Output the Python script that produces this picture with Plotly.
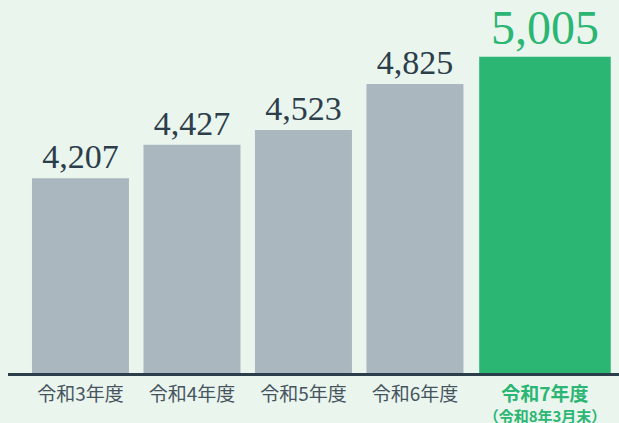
import plotly.graph_objects as go

categories = ["令和3年度", "令和4年度", "令和5年度", "令和6年度", "令和7年度"]
sublabel = "（令和8年3月末）"
values = [4207, 4427, 4523, 4825, 5005]
value_labels = ["4,207", "4,427", "4,523", "4,825", "5,005"]

GRAY = "#aab7bf"
GREEN = "#2bb673"
DARK = "#2c3e4a"
BG = "#eaf5ee"

xpos = [0, 1, 2, 3, 4.166]
widths = [0.87, 0.87, 0.87, 0.87, 1.18]
colors = [GRAY] * 4 + [GREEN]
text_colors = [DARK] * 4 + [GREEN]
text_sizes = [34] * 4 + [48]

ticktext = [f"<span style='color:#46545e;font-size:19px'>{c}</span>" for c in categories[:4]]
ticktext.append(
    f"<span style='color:{GREEN};font-size:19px'><b>{categories[4]}</b></span><br>"
    f"<span style='color:{GREEN};font-size:15px'><b>{sublabel}</b></span>"
)

fig = go.Figure(
    go.Bar(
        x=xpos,
        y=values,
        width=widths,
        marker=dict(color=colors, line=dict(width=0)),
        text=value_labels,
        textposition="outside",
        textfont=dict(family="Liberation Serif, serif", size=text_sizes, color=text_colors),
        cliponaxis=False,
        hoverinfo="skip",
    )
)

fig.update_layout(
    width=619,
    height=423,
    margin=dict(l=8, r=0, t=0, b=50, autoexpand=False),
    paper_bgcolor=BG,
    plot_bgcolor=BG,
    showlegend=False,
    font=dict(family="Noto Sans CJK JP", size=16, color="#46545e"),
)
fig.update_xaxes(
    range=[-0.650, 4.830],
    tickvals=xpos,
    ticktext=ticktext,
    showgrid=False,
    zeroline=False,
    showline=True,
    linecolor=DARK,
    linewidth=3,
    ticks="",
    ticklabelstandoff=6,
    automargin=False,
    tickfont=dict(family="Noto Sans CJK JP", size=16),
)
fig.update_yaxes(
    range=[2926, 5378],
    visible=False,
    showgrid=False,
    zeroline=False,
)

fig.write_html(
    "out.html",
    config={"displayModeBar": False},
    post_script="document.body.style.margin='0';document.body.style.background='#eaf5ee';",
)
